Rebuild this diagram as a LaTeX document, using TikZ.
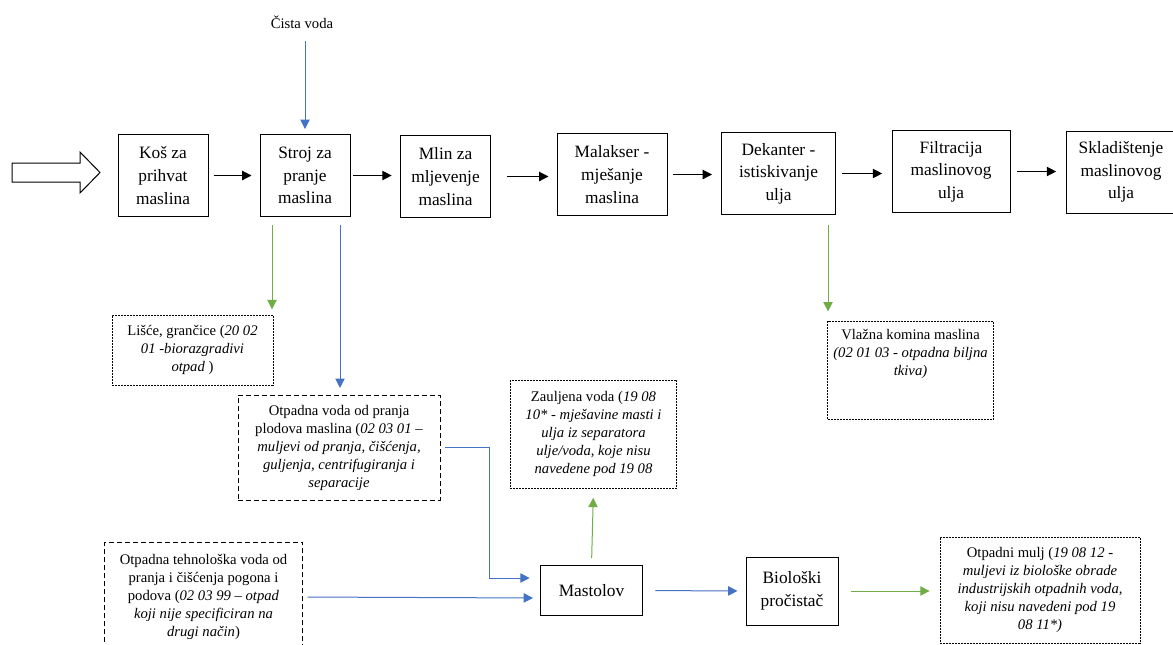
\documentclass[tikz,border=0pt]{standalone}
\usepackage{fontspec}
\setmainfont{Liberation Serif}
\usetikzlibrary{arrows.meta,calc}
\definecolor{wblue}{HTML}{4472C4}
\definecolor{wgreen}{HTML}{70AD47}

\begin{document}
\begin{tikzpicture}[x=0.75pt,y=-0.75pt,
  proc/.style={draw,line width=0.75pt,align=center,inner sep=0pt,
    font=\fontsize{13}{17}\selectfont},
  waste/.style={draw,line width=0.6pt,dash pattern=on 1.5pt off 0.75pt,
    align=center,inner sep=0pt,font=\fontsize{11}{13.5}\selectfont},
  wastelong/.style={waste,dash pattern=on 3.75pt off 2.25pt},
  flow/.style={-{Triangle[length=7pt,width=7pt]},line width=0.85pt},
  blueflow/.style={flow,color=wblue,line width=0.75pt},
  greenflow/.style={flow,color=wgreen,line width=0.75pt}]
\useasboundingbox (0,0) rectangle (1173,644);

\draw[line width=0.75pt] (12,163) -- (80,163) -- (80,152) -- (100,172.5)
  -- (80,193) -- (80,182) -- (12,182) -- cycle;

\node[proc,minimum width=67.5pt,minimum height=61.5pt] (kos) at (163,175.5) {Koš za\\prihvat\\maslina};
\node[proc,minimum width=67.5pt,minimum height=61.5pt] (stroj) at (305,175.5) {Stroj za\\pranje\\maslina};
\node[proc,minimum width=68pt,minimum height=61pt] (mlin) at (445.5,176.5) {Mlin za\\mljevenje\\maslina};
\node[proc,minimum width=82.5pt,minimum height=62pt] (malakser) at (612,174.5) {Malakser -\\mješanje\\maslina};
\node[proc,minimum width=85pt,minimum height=61pt] (dekanter) at (778.5,173.5) {Dekanter -\\istiskivanje\\ulja};
\node[proc,minimum width=88.5pt,minimum height=61pt] (filtracija) at (951,171.5) {Filtracija\\maslinovog\\ulja};
\node[proc,minimum width=82.5pt,minimum height=61.5pt] (skladiste) at (1121,172) {Skladištenje\\maslinovog\\ulja};

\node[font=\fontsize{11}{13.5}\selectfont] (cista) at (302,22) {Čista voda};

\node[waste,minimum width=120.75pt,minimum height=52.5pt] (lisce) at (192.5,350)
  {Lišće, grančice (\textit{20 02}\\\textit{01 -biorazgradivi}\\\textit{otpad} )};
\node[wastelong,minimum width=151.5pt,minimum height=78.75pt] (otpvoda) at (339,447.5)
  {Otpadna voda od pranja\\plodova maslina (\textit{02 03 01 –}\\\textit{muljevi od pranja, čišćenja,}\\\textit{guljenja, centrifugiranja i}\\\textit{separacije}};
\node[waste,minimum width=125pt,minimum height=81pt] (zauljena) at (593.5,434)
  {Zauljena voda (\textit{19 08}\\\textit{10* - mješavine masti i}\\\textit{ulja iz separatora}\\\textit{ulje/voda, koje nisu}\\\textit{navedene pod 19 08}};
\node[waste,minimum width=124pt,minimum height=74pt] (vlazna) at (910.5,370.5)
  {Vlažna komina maslina\\\textit{(02 01 03 - otpadna biljna}\\\textit{tkiva)}\\\mbox{}\\\mbox{}};
\node[wastelong,minimum width=148pt,minimum height=82.5pt] (tehno) at (203.5,597)
  {Otpadna tehnološka voda od\\pranja i čišćenja pogona i\\podova (\textit{02 03 99 – otpad}\\\textit{koji nije specificiran na}\\\textit{drugi način})};
\node[waste,minimum width=150pt,minimum height=79.5pt] (mulj) at (1040,590)
  {Otpadni mulj (\textit{19 08 12 -}\\\textit{muljevi iz biološke obrade}\\\textit{industrijskih otpadnih voda,}\\\textit{koji nisu navedeni pod 19}\\\textit{08 11*)}};

\node[proc,minimum width=77pt,minimum height=38pt] (mastolov) at (591.5,590.5) {Mastolov};
\node[proc,minimum width=69pt,minimum height=51pt] (bioloski) at (792,591) {Biološki\\pročistač};

\draw[flow,shorten <=3.75pt,shorten >=6pt] (kos.east) -- (kos.east -| stroj.west);
\draw[flow,shorten <=2pt,shorten >=6pt] (stroj.east) -- (stroj.east -| mlin.west);
\draw[flow,shorten <=12pt,shorten >=6pt] (mlin.east) -- (mlin.east -| malakser.west);
\draw[flow,shorten <=4pt,shorten >=7pt] (malakser.east) -- (malakser.east -| dekanter.west);
\draw[flow,shorten <=5pt,shorten >=7pt] (dekanter.east) -- (dekanter.east -| filtracija.west);
\draw[flow,shorten <=5pt,shorten >=7pt] (filtracija.east) -- (filtracija.east -| skladiste.west);

\draw[blueflow,shorten <=6pt,shorten >=3.75pt] (cista.south -| stroj.north) -- (stroj.north);

\coordinate (s1) at ($(stroj.south)+(-33,0)$);
\coordinate (s2) at ($(stroj.south)+(35,0)$);
\coordinate (d1) at ($(dekanter.south)+(49.5,0)$);
\draw[greenflow,shorten <=6pt,shorten >=4pt] (s1) -- (s1 |- lisce.north);
\draw[blueflow,shorten <=6pt,shorten >=5pt] (s2) -- (s2 |- otpvoda.north);
\draw[greenflow,shorten <=8pt,shorten >=7pt] (d1) -- (d1 |- vlazna.north);

\draw[blueflow,shorten <=3.75pt,shorten >=7.5pt] (otpvoda.east) -| ($(mastolov.west)+(-50,-12.5)$)
  -- ($(mastolov.west)+(0,-12.5)$);
\draw[blueflow,shorten <=3.75pt,shorten >=5pt] (tehno.east) -- ($(mastolov.west)+(0,7.5)$);
\draw[greenflow,shorten <=5pt,shorten >=7pt] (mastolov.north) -- (zauljena.south);
\draw[blueflow,shorten <=9pt,shorten >=6pt] (mastolov.east) -- (bioloski.west);
\draw[greenflow,shorten <=9pt,shorten >=7.5pt] (bioloski.east) -- (mulj.west |- bioloski.east);
\end{tikzpicture}
\end{document}
